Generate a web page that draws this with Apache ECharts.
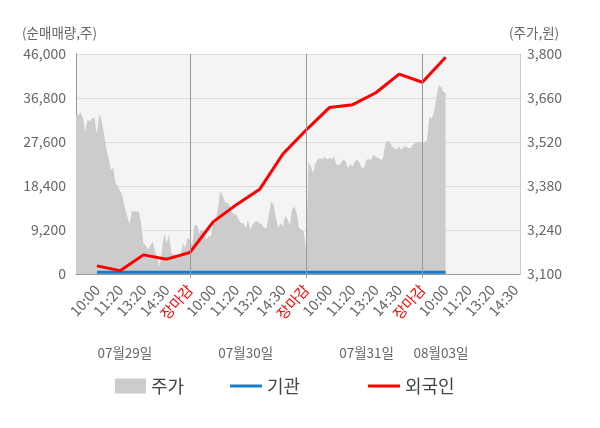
<!DOCTYPE html>
<html>
<head>
<meta charset="utf-8">
<style>
  html, body { margin: 0; padding: 0; background: #fff; }
  #trade-chart { width: 600px; height: 428px; }
</style>
<script src="https://cdn.jsdelivr.net/npm/echarts@6.0.0/dist/echarts.min.js"></script>
</head>
<body>
<div id="trade-chart"></div>
<script>
    "use strict";

    // 축 라벨
    var timeLabels = ['10:00', '11:20', '13:20', '14:30', '장마감'];
    var dayLabels = ['07월29일', '07월30일', '07월31일', '08월03일'];
    var dayLabelIdx = [21, 73, 125, 157];
    var closeIdx = [49, 99, 149];
    var pointCount = 192;
    var nowIdx = 159;

    // 주가 (원)
    var priceData = [
        3607, 3607, 3614, 3596, 3553, 3591, 3586, 3596, 3596, 3545,
        3610, 3591, 3549, 3500, 3470, 3430, 3438, 3390, 3378, 3365,
        3347, 3310, 3285, 3260, 3299, 3299, 3299, 3299, 3262, 3199,
        3190, 3177, 3190, 3204, 3172, 3151, 3124, 3177, 3230, 3199,
        3225, 3167, 3161, 3161, 3151, 3156, 3199, 3183, 3215, 3209,
        3193, 3255, 3257, 3230, 3241, 3235, 3209, 3220, 3220, 3262,
        3262, 3305, 3363, 3352, 3330, 3326, 3320, 3299, 3289, 3290,
        3273, 3262, 3262, 3246, 3273, 3241, 3257, 3267, 3267, 3262,
        3257, 3246, 3246, 3290, 3331, 3320, 3278, 3246, 3262, 3251,
        3285, 3273, 3257, 3305, 3315, 3290, 3246, 3241, 3235, 3172,
        3458, 3442, 3421, 3453, 3464, 3469, 3464, 3474, 3464, 3469,
        3466, 3474, 3448, 3445, 3453, 3464, 3458, 3437, 3450, 3442,
        3458, 3464, 3453, 3437, 3440, 3464, 3464, 3464, 3480, 3472,
        3469, 3464, 3465, 3511, 3525, 3520, 3506, 3501, 3495, 3506,
        3495, 3506, 3506, 3501, 3501, 3511, 3517, 3519, 3519, 3519,
        3519, 3527, 3600, 3595, 3615, 3660, 3700, 3695, 3680, 3676
    ];

    // 누적 순매매량 (주) - 시간 라벨 위치마다
    var flowIdx = [9, 19, 29, 39, 49, 59, 69, 79, 89, 99, 109, 119, 129, 139, 149, 159];
    var foreignData = [1700, 700, 4000, 3100, 4500, 10900, 14500, 17700,
                       25100, 30100, 34800, 35400, 37900, 41800, 40100, 45300];
    var instData = [350, 350, 350, 350, 350, 350, 350, 350,
                    350, 350, 350, 350, 350, 350, 350, 350];

    var timeCats = [];
    var dateCats = [];
    for (var i = 0; i < pointCount; i++) {
        timeCats.push(i % 10 === 9 ? timeLabels[((i - 9) / 10) % 5] : '');
        var d = dayLabelIdx.indexOf(i);
        dateCats.push(d >= 0 ? dayLabels[d] : '');
    }

    function pairs(idx, vals) {
        return idx.map(function (x, k) { return [x, vals[k]]; });
    }

    var font = 'Noto Sans CJK KR';
    var legendText = { fontSize: 18, color: '#444', fontFamily: font };
    var nameText = { fontSize: 13.5, color: '#666', fontWeight: 'normal', fontFamily: font };

    var chart = echarts.init(document.getElementById('trade-chart'));
    chart.setOption({
        animation: false,
        textStyle: { fontFamily: font },
        title: [
            { text: '(순매매량,주)', left: 22, top: 26, padding: 0, textStyle: nameText },
            { text: '(주가,원)', left: 509, top: 26, padding: 0, textStyle: nameText }
        ],
        legend: [
            { data: ['주가'], left: 115, top: 377, padding: 0, icon: 'rect',
              itemWidth: 31, itemHeight: 15, textStyle: legendText },
            { data: ['기관'], left: 230, top: 377, padding: 0, icon: 'rect',
              itemWidth: 32, itemHeight: 3, textStyle: legendText },
            { data: ['외국인'], left: 368, top: 377, padding: 0, icon: 'rect',
              itemWidth: 32, itemHeight: 3, textStyle: legendText }
        ],
        grid: {
            left: 76, right: 80, top: 54, bottom: 154,
            show: true, backgroundColor: '#f4f4f4', borderWidth: 0
        },
        xAxis: [
            {
                type: 'category',
                data: timeCats,
                boundaryGap: false,
                axisLine: { lineStyle: { color: '#999' } },
                axisTick: {
                    show: true, length: 4,
                    interval: function (idx) { return closeIdx.indexOf(idx) >= 0; },
                    lineStyle: { color: '#999' }
                },
                splitLine: { show: false },
                axisLabel: {
                    interval: function (idx) { return idx % 10 === 9; },
                    rotate: 48,
                    margin: 13,
                    fontSize: 14.5,
                    fontFamily: font,
                    color: function (value, idx) {
                        if (value === '장마감') return '#ff0000';
                        return idx === nowIdx ? '#333' : '#666';
                    }
                }
            },
            {
                type: 'category',
                data: dateCats,
                boundaryGap: false,
                position: 'bottom',
                offset: 64,
                axisLine: { show: false },
                axisTick: { show: false },
                axisLabel: { interval: 0, fontSize: 13.5, color: '#666', fontFamily: font }
            }
        ],
        yAxis: [
            {
                type: 'value',
                min: 0, max: 46000, interval: 9200,
                axisLine: { show: true, lineStyle: { color: '#999' } },
                axisTick: { show: false },
                splitLine: { lineStyle: { color: '#dcdcdc' } },
                axisLabel: {
                    fontSize: 14, color: '#666', margin: 10, fontFamily: font,
                    formatter: function (v) { return v.toLocaleString('en-US'); }
                }
            },
            {
                type: 'value',
                position: 'right',
                min: 3100, max: 3800, interval: 140,
                axisLine: { show: true, lineStyle: { color: '#ccc' } },
                axisTick: { show: false },
                splitLine: { show: false },
                axisLabel: {
                    fontSize: 14, color: '#666', margin: 7, fontFamily: font,
                    formatter: function (v) { return v.toLocaleString('en-US'); }
                }
            }
        ],
        series: [
            {
                name: '주가',
                type: 'line',
                yAxisIndex: 1,
                data: priceData,
                symbol: 'none',
                lineStyle: { width: 0 },
                itemStyle: { color: '#cccccc' },
                areaStyle: { color: '#cccccc', opacity: 1, origin: 'start' },
                // 장마감 구분선 (주가 영역 위에 그림)
                markLine: {
                    silent: true,
                    symbol: 'none',
                    label: { show: false },
                    lineStyle: { color: '#999', type: 'solid', width: 1 },
                    data: closeIdx.map(function (x) { return { xAxis: x }; })
                }
            },
            {
                name: '기관',
                type: 'line',
                data: pairs(flowIdx, instData),
                symbol: 'none',
                itemStyle: { color: '#1a7cc9' },
                lineStyle: { color: '#1a7cc9', width: 3 }
            },
            {
                name: '외국인',
                type: 'line',
                data: pairs(flowIdx, foreignData),
                symbol: 'none',
                itemStyle: { color: '#ff0000' },
                lineStyle: { color: '#ff0000', width: 3 }
            }
        ]
    });
</script>
</body>
</html>
